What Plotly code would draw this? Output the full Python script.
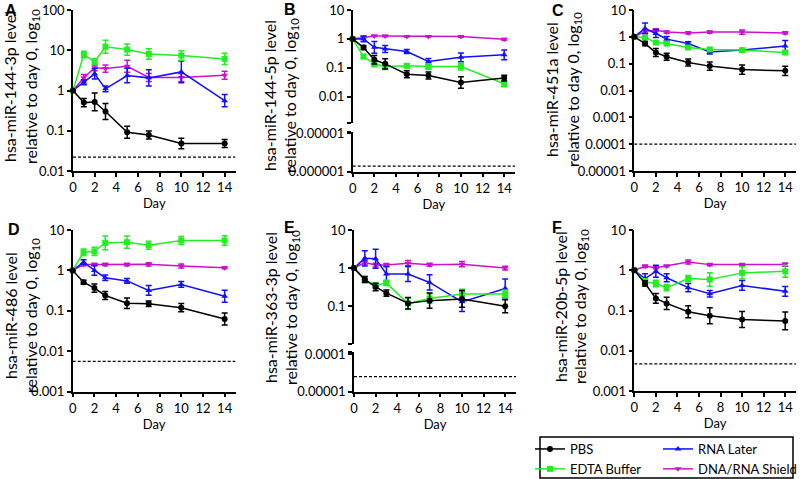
import plotly.graph_objects as go

W, H = 800, 479

days = [0, 1, 2, 3, 5, 7, 10, 14]
day_ticks = [0, 2, 4, 6, 8, 10, 12, 14]
groups = ["PBS", "EDTA Buffer", "RNA Later", "DNA/RNA Shield"]

# ---- Panel A: hsa-miR-144-3p ----
A_PBS = [1, 0.50, 0.52, 0.30, 0.092, 0.078, 0.048, 0.048]
A_PBS_err = [0, 0.10, 0.22, 0.20, 0.15, 0.10, 0.13, 0.10]
A_EDTA = [1, 7.8, 5.2, 12.2, 10.4, 8.1, 7.4, 6.1]
A_EDTA_err = [0, 0.08, 0.07, 0.16, 0.14, 0.13, 0.12, 0.14]
A_RNAL = [1, 1.6, 2.6, 1.1, 2.36, 2.06, 2.9, 0.56]
A_RNAL_err = [0, 0.06, 0.13, 0.07, 0.18, 0.20, 0.27, 0.15]
A_SHLD = [1, 2.07, 3.66, 3.5, 4.0, 2.1, 2.1, 2.4]
A_SHLD_err = [0, 0.08, 0.07, 0.09, 0.15, 0.10, 0.10, 0.10]
A_LOD = 0.022

# ---- Panel B: hsa-miR-144-5p ----
B_PBS = [1, 0.50, 0.19, 0.137, 0.060, 0.054, 0.031, 0.044]
B_PBS_err = [0, 0.07, 0.15, 0.18, 0.12, 0.12, 0.20, 0.10]
B_EDTA = [1, 0.245, 0.136, 0.11, 0.117, 0.11, 0.11, 0.028]
B_EDTA_err = [0, 0.07, 0.10, 0.10, 0.07, 0.10, 0.12, 0.10]
B_RNAL = [1, 1.0, 0.51, 0.45, 0.365, 0.165, 0.23, 0.28]
B_RNAL_err = [0, 0.10, 0.20, 0.12, 0.07, 0.10, 0.15, 0.17]
B_SHLD = [1, 1.14, 1.27, 1.25, 1.22, 1.22, 1.20, 0.97]
B_SHLD_err = [0, 0.03, 0.02, 0.02, 0.02, 0.02, 0.02, 0.03]
B_LOD = 1.4e-6

# ---- Panel C: hsa-miR-451a ----
C_PBS = [1, 0.56, 0.26, 0.18, 0.11, 0.081, 0.060, 0.054]
C_PBS_err = [0, 0.08, 0.15, 0.13, 0.13, 0.15, 0.17, 0.17]
C_EDTA = [1, 0.94, 0.61, 0.56, 0.40, 0.34, 0.32, 0.26]
C_EDTA_err = [0, 0.04, 0.03, 0.05, 0.05, 0.05, 0.03, 0.06]
C_RNAL = [1, 2.05, 1.33, 0.82, 0.56, 0.275, 0.32, 0.46]
C_RNAL_err = [0, 0.20, 0.15, 0.10, 0.07, 0.08, 0.03, 0.20]
C_SHLD = [1, 1.6, 1.77, 1.5, 1.4, 1.5, 1.5, 1.4]
C_SHLD_err = [0, 0.05, 0.05, 0.04, 0.04, 0.04, 0.08, 0.04]
C_LOD = 1e-4

# ---- Panel D: hsa-miR-486 ----
D_PBS = [1, 0.51, 0.365, 0.24, 0.155, 0.15, 0.12, 0.063]
D_PBS_err = [0, 0.05, 0.10, 0.10, 0.13, 0.07, 0.10, 0.15]
D_EDTA = [1, 2.8, 2.96, 4.8, 5.0, 4.2, 5.5, 5.5]
D_EDTA_err = [0, 0.08, 0.10, 0.17, 0.15, 0.10, 0.10, 0.12]
D_RNAL = [1, 1.6, 1.0, 0.66, 0.55, 0.32, 0.45, 0.23]
D_RNAL_err = [0, 0.06, 0.12, 0.07, 0.06, 0.12, 0.07, 0.15]
D_SHLD = [1, 1.4, 1.4, 1.4, 1.4, 1.42, 1.28, 1.16]
D_SHLD_err = [0, 0.03, 0.03, 0.03, 0.03, 0.04, 0.05, 0.02]
D_LOD = 0.0056

# ---- Panel E: hsa-miR-363-3p ----
E_PBS = [1, 0.50, 0.32, 0.22, 0.12, 0.14, 0.155, 0.10]
E_PBS_err = [0, 0.08, 0.10, 0.08, 0.15, 0.20, 0.22, 0.17]
E_EDTA = [1, 0.50, 0.35, 0.41, 0.117, 0.16, 0.21, 0.21]
E_EDTA_err = [0, 0.08, 0.06, 0.07, 0.15, 0.12, 0.12, 0.10]
E_RNAL = [1, 1.8, 1.75, 0.70, 0.70, 0.42, 0.13, 0.29]
E_RNAL_err = [0, 0.20, 0.25, 0.20, 0.20, 0.20, 0.25, 0.25]
E_SHLD = [1, 1.4, 1.2, 1.2, 1.35, 1.22, 1.27, 1.0]
E_SHLD_err = [0, 0.05, 0.05, 0.04, 0.07, 0.04, 0.07, 0.05]
E_LOD = 2.5e-5

# ---- Panel F: hsa-miR-20b-5p ----
F_PBS = [1, 0.47, 0.20, 0.15, 0.093, 0.074, 0.060, 0.055]
F_PBS_err = [0, 0.07, 0.12, 0.15, 0.15, 0.20, 0.20, 0.22]
F_EDTA = [1, 0.51, 0.47, 0.37, 0.62, 0.59, 0.86, 0.94]
F_EDTA_err = [0, 0.08, 0.08, 0.08, 0.08, 0.17, 0.15, 0.15]
F_RNAL = [1, 0.62, 0.94, 0.65, 0.37, 0.26, 0.42, 0.30]
F_RNAL_err = [0, 0.12, 0.15, 0.10, 0.10, 0.08, 0.12, 0.12]
F_SHLD = [1, 1.26, 1.16, 1.28, 1.6, 1.38, 1.38, 1.38]
F_SHLD_err = [0, 0.03, 0.03, 0.02, 0.05, 0.03, 0.03, 0.04]
F_LOD = 0.0047

# ---------------- styling ----------------
FONT = "Lato"
TICK_FONT = dict(family=FONT, size=13, color="black")
style = {
    "PBS": dict(color="#000000", symbol="circle", legend="legend"),
    "EDTA Buffer": dict(color="#22EE22", symbol="square", legend="legend"),
    "RNA Later": dict(color="#1010FF", symbol="triangle-up", legend="legend2"),
    "DNA/RNA Shield": dict(color="#CC11CC", symbol="triangle-down", legend="legend2"),
}
legend_rank = {"PBS": 1, "EDTA Buffer": 2, "RNA Later": 1, "DNA/RNA Shield": 2}


def xdom(a, b):
    return [a / W, b / W]


def ydom(top, bot):
    return [1 - bot / H, 1 - top / H]


fig = go.Figure()


def add_series(xa, ya, vals, errs, group, showlegend):
    st = style[group]
    up = [v * 10 ** e - v for v, e in zip(vals, errs)]
    dn = [v - v / 10 ** e for v, e in zip(vals, errs)]
    fig.add_trace(go.Scatter(
        x=days, y=vals, mode="lines+markers", name=group,
        line=dict(color=st["color"], width=1.5),
        marker=dict(symbol=st["symbol"], size=6, color=st["color"]),
        error_y=dict(type="data", symmetric=False, array=up, arrayminus=dn,
                     color=st["color"], thickness=1.5, width=3),
        xaxis=xa, yaxis=ya, showlegend=showlegend, legend=st["legend"],
        legendrank=legend_rank[group], cliponaxis=False, hoverinfo="x+y+name",
    ))


def add_lod(xa, ya, value):
    fig.add_trace(go.Scatter(
        x=[0, 15], y=[value, value], mode="lines",
        line=dict(color="black", width=1.3, dash="3px,2px"),
        xaxis=xa, yaxis=ya, showlegend=False, hoverinfo="skip",
    ))


panels = [
    ("x", "y", [A_PBS, A_EDTA, A_RNAL, A_SHLD], [A_PBS_err, A_EDTA_err, A_RNAL_err, A_SHLD_err], True),
    ("x2", "y2", [B_PBS, B_EDTA, B_RNAL, B_SHLD], [B_PBS_err, B_EDTA_err, B_RNAL_err, B_SHLD_err], False),
    ("x4", "y4", [C_PBS, C_EDTA, C_RNAL, C_SHLD], [C_PBS_err, C_EDTA_err, C_RNAL_err, C_SHLD_err], False),
    ("x5", "y5", [D_PBS, D_EDTA, D_RNAL, D_SHLD], [D_PBS_err, D_EDTA_err, D_RNAL_err, D_SHLD_err], False),
    ("x6", "y6", [E_PBS, E_EDTA, E_RNAL, E_SHLD], [E_PBS_err, E_EDTA_err, E_RNAL_err, E_SHLD_err], False),
    ("x8", "y8", [F_PBS, F_EDTA, F_RNAL, F_SHLD], [F_PBS_err, F_EDTA_err, F_RNAL_err, F_SHLD_err], False),
]

add_lod("x", "y", A_LOD)
add_lod("x3", "y3", B_LOD)
add_lod("x4", "y4", C_LOD)
add_lod("x5", "y5", D_LOD)
add_lod("x7", "y7", E_LOD)
add_lod("x8", "y8", F_LOD)

order = ["DNA/RNA Shield", "RNA Later", "EDTA Buffer", "PBS"]
for xa, ya, vals, errs, leg in panels:
    for g in order:
        i = groups.index(g)
        add_series(xa, ya, vals[i], errs[i], g, leg)

# ---------------- axes ----------------
def yaxis(top, bot, rng, tv, tt, anchor):
    return dict(
        type="log", range=rng, domain=ydom(top, bot), anchor=anchor,
        tickvals=tv, ticktext=tt, showline=True, linecolor="black", linewidth=1.5,
        ticks="outside", ticklen=4, tickwidth=1.5, tickcolor="black",
        showgrid=False, zeroline=False, tickfont=TICK_FONT, automargin=False,
    )


def xaxis(left, right, anchor, show=True):
    if not show:
        return dict(range=[0, 15], domain=xdom(left, right), anchor=anchor, visible=False)
    return dict(
        range=[0, 15], domain=xdom(left, right), anchor=anchor,
        tickvals=day_ticks, showline=True, linecolor="black", linewidth=1.5,
        ticks="outside", ticklen=4, tickwidth=1.5, tickcolor="black",
        showgrid=False, zeroline=False, tickfont=TICK_FONT, automargin=False,
        title=dict(text="Day", font=dict(family=FONT, size=13, color="black"), standoff=2),
    )


lay = {}
# A
lay["xaxis"] = xaxis(73, 235.5, "y")
lay["yaxis"] = yaxis(10, 171, [-2, 2], [100, 10, 1, 0.1, 0.01], ["100", "10", "1", "0.1", "0.01"], "x")
# B (broken axis)
lay["xaxis2"] = xaxis(352.7, 515, "y2", show=False)
lay["yaxis2"] = yaxis(10, 122.7, [-2.9, 1], [10, 1, 0.1, 0.01, 10 ** -2.9], ["10", "1", "0.1", "0.01", ""], "x2")
lay["xaxis3"] = xaxis(352.7, 515, "y3")
lay["yaxis3"] = yaxis(131.5, 171.7, [-6, -4.953], [10 ** -4.953, 1e-5, 1e-6], ["", "0.00001", "0.000001"], "x3")
# C
lay["xaxis4"] = xaxis(634.3, 796, "y4")
lay["yaxis4"] = yaxis(10, 171, [-5, 1], [10, 1, 0.1, 0.01, 0.001, 1e-4, 1e-5],
                      ["10", "1", "0.1", "0.01", "0.001", "0.0001", "0.00001"], "x4")
# D
lay["xaxis5"] = xaxis(72.7, 235.5, "y5")
lay["yaxis5"] = yaxis(230, 391.7, [-3, 1], [10, 1, 0.1, 0.01, 0.001], ["10", "1", "0.1", "0.01", "0.001"], "x5")
# E (broken axis)
lay["xaxis6"] = xaxis(354, 516, "y6", show=False)
lay["yaxis6"] = yaxis(230, 344.3, [-2, 1], [10, 1, 0.1, 0.01], ["10", "1", "0.1", ""], "x6")
lay["xaxis7"] = xaxis(354, 516, "y7")
lay["yaxis7"] = yaxis(351.7, 391.7, [-5, -3.94], [10 ** -3.94, 1e-4, 1e-5], ["", "0.0001", "0.00001"], "x7")
# F
lay["xaxis8"] = xaxis(634.3, 796, "y8")
lay["yaxis8"] = yaxis(230, 391, [-3, 1], [10, 1, 0.1, 0.01, 0.001], ["10", "1", "0.1", "0.01", "0.001"], "x8")

fig.update_layout(**lay)

# ---------------- text ----------------
ann = []
letters = [("A", 3, 0), ("B", 282, -1), ("C", 550, 0), ("D", 6, 219), ("E", 282, 217), ("F", 550, 217)]
for t, px, py in letters:
    ann.append(dict(text=f"<b>{t}</b>", x=px / W, y=1 - py / H, xref="paper", yref="paper",
                    xanchor="left", yanchor="top", showarrow=False,
                    font=dict(family="Liberation Sans", size=16, color="black")))

titles = [
    ("hsa-miR-144-3p level", 9, 31, 87),
    ("hsa-miR-144-5p level", 270, 291, 96),
    ("hsa-miR-451a level", 551, 573, 90),
    ("hsa-miR-486 level", 10, 31, 316),
    ("hsa-miR-363-3p level", 270, 291, 308),
    ("hsa-miR-20b-5p level", 560, 580, 307),
]
for t, x1, x2, yc in titles:
    ann.append(dict(text=t, x=x1 / W, y=1 - yc / H, xref="paper", yref="paper",
                    xanchor="center", yanchor="middle", textangle=-90, showarrow=False,
                    font=dict(family=FONT, size=16, color="black")))
    ann.append(dict(text="relative to day 0, log<sub>10</sub>", x=x2 / W, y=1 - yc / H,
                    xref="paper", yref="paper", xanchor="center", yanchor="middle",
                    textangle=-90, showarrow=False,
                    font=dict(family=FONT, size=16, color="black")))

leg_common = dict(orientation="v", xref="container", yref="container",
                  xanchor="left", yanchor="top", borderwidth=0, bgcolor="rgba(0,0,0,0)",
                  font=dict(family=FONT, size=13, color="black"), itemwidth=30,
                  traceorder="normal", tracegroupgap=0)

fig.update_layout(
    width=W, height=H, autosize=False,
    margin=dict(l=0, r=0, t=0, b=0, autoexpand=False),
    paper_bgcolor="white", plot_bgcolor="white",
    annotations=ann,
    showlegend=True,
    legend=dict(x=530 / W, y=1 - 434 / H, **leg_common),
    legend2=dict(x=658 / W, y=1 - 434 / H, **leg_common),
    shapes=[dict(type="rect", xref="paper", yref="paper",
                 x0=540 / W, x1=793 / W, y0=1 - 478 / H, y1=1 - 437 / H,
                 line=dict(color="black", width=1.5))],
    font=dict(family=FONT, color="black"),
)

fig.write_html(
    "out.html",
    config={"displayModeBar": False},
    post_script="document.body.style.margin='0';document.body.style.padding='0';"
                "document.body.style.overflow='hidden';",
)
